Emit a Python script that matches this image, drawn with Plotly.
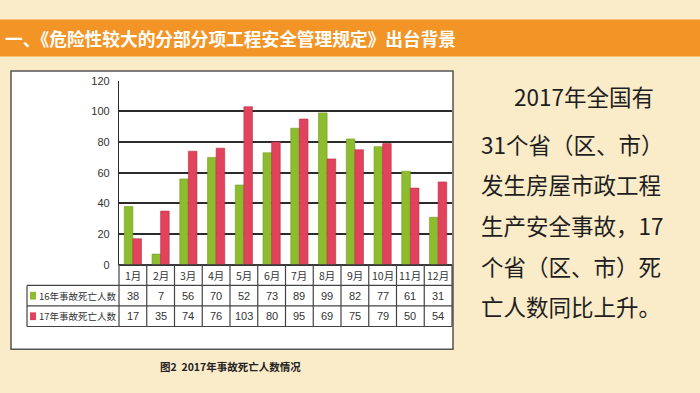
import plotly.graph_objects as go

months = ["1月", "2月", "3月", "4月", "5月", "6月", "7月", "8月", "9月", "10月", "11月", "12月"]
deaths_2016 = [38, 7, 56, 70, 52, 73, 89, 99, 82, 77, 61, 31]
deaths_2017 = [17, 35, 74, 76, 103, 80, 95, 69, 75, 79, 50, 54]
series_names = ["16年事故死亡人数", "17年事故死亡人数"]
y_ticks = [0, 20, 40, 60, 80, 100, 120]
title_text = "一、《危险性较大的分部分项工程安全管理规定》出台背景"
caption_text = "图2  2017年事故死亡人数情况"
side_lines = ["2017年全国有", "31个省（区、市）", "发生房屋市政工程", "生产安全事故，17", "个省（区、市）死", "亡人数同比上升。"]

W, H = 700, 393
GREEN = "#8DBD2F"
RED = "#E2435C"
CREAM = "#FAEBC9"
ORANGE = "#F29526"
DARK = "#2b2b2b"

def py(ypx):
    return 1 - ypx / H

def px(xpx):
    return xpx / W

# plot area geometry (pixels)
X0, X1 = 119, 452
Y_TOP, Y_ZERO = 77, 267
ROW_H = 21.2
TABLE_LEFT = 27

fig = go.Figure()
fig.add_trace(go.Bar(x=months, y=deaths_2016, name=series_names[0], marker=dict(color=GREEN, line=dict(color="#6f9a20", width=0.6))))
fig.add_trace(go.Bar(x=months, y=deaths_2017, name=series_names[1], marker=dict(color=RED, line=dict(color="#b92f45", width=0.6))))

shapes = []
shapes.append(dict(type="rect", xref="paper", yref="paper", x0=0, x1=1, y0=py(52), y1=py(14), fillcolor=ORANGE, line=dict(width=0), layer="below"))
shapes.append(dict(type="rect", xref="paper", yref="paper", x0=px(11), x1=px(453), y0=py(354), y1=py(67), fillcolor="white", line=dict(color="#555555", width=1.5), layer="below"))

rows_y = [Y_ZERO + ROW_H * k for k in range(4)]
for k, yy in enumerate(rows_y):
    left = X0 if k == 0 else TABLE_LEFT
    shapes.append(dict(type="line", xref="paper", yref="paper", x0=px(left), x1=px(X1), y0=py(yy), y1=py(yy), line=dict(color="#444444", width=1.2)))
n = len(months)
cw = (X1 - X0) / n
for k in range(n + 1):
    xx = X0 + k * cw
    shapes.append(dict(type="line", xref="paper", yref="paper", x0=px(xx), x1=px(xx), y0=py(Y_ZERO), y1=py(rows_y[3]), line=dict(color="#444444", width=1.2)))
shapes.append(dict(type="line", xref="paper", yref="paper", x0=px(TABLE_LEFT), x1=px(TABLE_LEFT), y0=py(rows_y[1]), y1=py(rows_y[3]), line=dict(color="#444444", width=1.2)))

for i, col in enumerate([GREEN, RED]):
    yc = (rows_y[i + 1] + rows_y[i + 2]) / 2
    shapes.append(dict(type="rect", xref="paper", yref="paper", x0=px(30), x1=px(36), y0=py(yc + 4), y1=py(yc - 4), fillcolor=col, line=dict(width=0)))

annotations = []
tfont = dict(family="Liberation Sans Narrow, Arial Narrow, Liberation Sans, sans-serif", size=11, color="#333333")
cjk_small = dict(family="Noto Sans CJK SC", size=10.5, color="#333333")
cjk_label = dict(family="Noto Sans CJK SC", size=9.5, color="#333333")
for i, m in enumerate(months):
    annotations.append(dict(x=m, xref="x", y=py((rows_y[0] + rows_y[1]) / 2), yref="paper", text=m, showarrow=False, font=cjk_small, xanchor="center", yanchor="middle"))
    annotations.append(dict(x=m, xref="x", y=py((rows_y[1] + rows_y[2]) / 2), yref="paper", text=str(deaths_2016[i]), showarrow=False, font=tfont, xanchor="center", yanchor="middle"))
    annotations.append(dict(x=m, xref="x", y=py((rows_y[2] + rows_y[3]) / 2), yref="paper", text=str(deaths_2017[i]), showarrow=False, font=tfont, xanchor="center", yanchor="middle"))
for i, nm in enumerate(series_names):
    yc = (rows_y[i + 1] + rows_y[i + 2]) / 2
    annotations.append(dict(x=px(37), xref="paper", y=py(yc), yref="paper", text=nm, showarrow=False, font=cjk_label, xanchor="left", yanchor="middle"))

annotations.append(dict(x=px(3), xref="paper", y=py(33), yref="paper", text="<b>" + title_text + "</b>", showarrow=False,
                        font=dict(family="Noto Sans CJK SC", size=17.7, color="white"), xanchor="left", yanchor="middle"))
annotations.append(dict(x=px(230), xref="paper", y=py(372), yref="paper", text="<b>" + caption_text + "</b>", showarrow=False,
                        font=dict(family="Noto Sans CJK SC", size=10.5, color="#222222"), xanchor="center", yanchor="middle"))
line_y = [93, 142, 184, 226, 268, 309]
for i, (t, yy) in enumerate(zip(side_lines, line_y)):
    annotations.append(dict(x=px(512 if i == 0 else 479), xref="paper", y=py(yy), yref="paper", text=t, showarrow=False,
                            font=dict(family="Noto Sans CJK SC", size=22.5, color="#1e1e1e"), xanchor="left", yanchor="middle"))

fig.update_layout(
    width=W, height=H, margin=dict(l=0, r=0, t=0, b=0),
    paper_bgcolor=CREAM, plot_bgcolor="white",
    showlegend=False, barmode="group", bargap=0.38, bargroupgap=0,
    shapes=shapes, annotations=annotations,
    xaxis=dict(domain=[px(X0), px(X1)], showticklabels=False, showgrid=False, zeroline=False, showline=False, fixedrange=True),
    yaxis=dict(domain=[py(Y_ZERO), py(Y_TOP)], range=[0, 120], tickvals=y_ticks, showgrid=True, gridcolor=DARK, gridwidth=1.5,
               zeroline=True, zerolinecolor=DARK, zerolinewidth=1.5, showline=True, linecolor=DARK, linewidth=1.2,
               ticks="", ticklabelstandoff=6, tickfont=dict(family="Liberation Sans Narrow, Arial Narrow, Liberation Sans, sans-serif", size=11, color="#333333")),
)

fig.write_html("out.html")
